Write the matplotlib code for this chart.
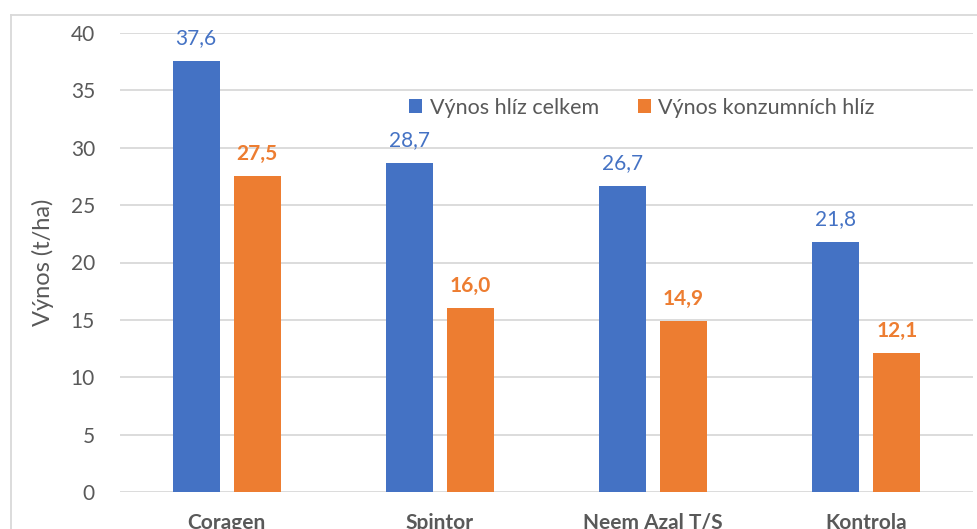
import matplotlib.pyplot as plt
import numpy as np
from matplotlib.lines import Line2D

plt.rcParams['font.family'] = ['Lato', 'DejaVu Sans']

categories = ["Coragen", "Spintor", "Neem Azal T/S", "Kontrola"]
celkem = [37.6, 28.7, 26.7, 21.8]
konzum = [27.5, 16.0, 14.9, 12.1]
series_names = ["Výnos hlíz celkem", "Výnos konzumních hlíz"]

blue = "#4472C4"
orange = "#ED7D31"
grey = "#595959"

W, H = 978, 529
fig = plt.figure(figsize=(W / 100, H / 100), dpi=100)
ax = fig.add_axes([120 / W, 37 / H, 853 / W, 459 / H])

x = np.arange(len(categories))
bw = 0.22
off = 0.143
b1 = ax.bar(x - off, celkem, bw, color=blue, label=series_names[0], zorder=3)
b2 = ax.bar(x + off, konzum, bw, color=orange, label=series_names[1], zorder=3)

for rect, v in zip(b1, celkem):
    ax.annotate(f"{v:.1f}".replace(".", ","), (rect.get_x() + rect.get_width() / 2, v),
                xytext=(0, 9), textcoords="offset points", ha="center", va="bottom",
                color=blue, fontsize=15)
for rect, v in zip(b2, konzum):
    ax.annotate(f"{v:.1f}".replace(".", ","), (rect.get_x() + rect.get_width() / 2, v),
                xytext=(0, 9), textcoords="offset points", ha="center", va="bottom",
                color=orange, fontsize=15, fontweight="bold")

ax.set_xlim(-0.5, 3.5)
ax.set_ylim(0, 40)
ax.set_yticks(range(0, 41, 5))
ax.yaxis.grid(True, color="#D9D9D9", linewidth=1.3, zorder=0)
ax.set_axisbelow(True)
for s in ax.spines.values():
    s.set_visible(False)
ax.tick_params(axis="both", length=0, labelsize=15, labelcolor=grey)
ax.tick_params(axis="y", pad=18)
ax.set_xticks(x)
ax.set_xticklabels(categories, fontweight="bold")
ax.tick_params(axis="x", pad=15)
ax.set_ylabel("Výnos (t/ha)", fontsize=17, color=grey, labelpad=12)

ax.legend(loc="center", bbox_to_anchor=(0.612, 0.837), ncol=2, frameon=False,
          fontsize=15.5, labelcolor=grey, handlelength=0.6, handleheight=0.6,
          handletextpad=0.35, columnspacing=1.8)

# outer chart border (cropped on the right and bottom)
fig.add_artist(Line2D([10.5 / W, 10.5 / W], [0, 1 - 15 / H], color="#D9D9D9", lw=1.3))
fig.add_artist(Line2D([10.5 / W, 1], [1 - 15 / H, 1 - 15 / H], color="#D9D9D9", lw=1.3))

fig.savefig("out.png", dpi=100)
